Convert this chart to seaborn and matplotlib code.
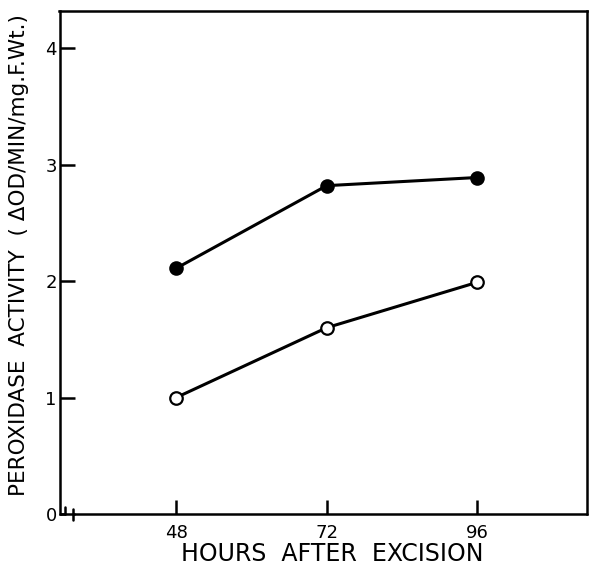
import matplotlib
matplotlib.use("Agg")
import matplotlib.pyplot as plt
import seaborn as sns
import pandas as pd

hours = [48, 72, 96]
filled_vals = [2.11, 2.82, 2.89]
open_vals = [1.00, 1.60, 1.99]
x_ticks = [48, 72, 96]
y_ticks = [0, 1, 2, 3, 4]

sns.set_theme(style="white")
plt.rcParams['font.family'] = ['DejaVu Sans']

W, H = 590, 565
fig = plt.figure(figsize=(W / 100, H / 100), dpi=100)
ax = fig.add_axes([59.5 / W, 1 - 514 / H, (587 - 59.5) / W, (514 - 11) / H])

df_f = pd.DataFrame({"hours": hours, "activity": filled_vals})
df_o = pd.DataFrame({"hours": hours, "activity": open_vals})

sns.lineplot(data=df_f, x="hours", y="activity", ax=ax, color="black", lw=2.2,
             marker="o", markersize=9, markerfacecolor="black", markeredgecolor="black",
             markeredgewidth=1.5, zorder=3)
sns.lineplot(data=df_o, x="hours", y="activity", ax=ax, color="black", lw=2.2,
             marker="o", markersize=9, markerfacecolor="white", markeredgecolor="black",
             markeredgewidth=1.6, zorder=3)

ax.set_xlim(29.4, 113.5)
ax.set_ylim(0, 4.32)
ax.set_xticks(x_ticks)
ax.set_xticklabels([str(v) for v in x_ticks], fontsize=13)
ax.set_yticks(y_ticks)
ax.set_yticklabels([str(v) for v in y_ticks], fontsize=13)
ax.tick_params(axis="y", left=True, direction="in", length=11, width=1.8, pad=2, colors="black")
ax.tick_params(axis="x", bottom=True, direction="in", length=10, width=1.8, pad=7, colors="black")

for s in ["left", "top", "right"]:
    ax.spines[s].set_color("black")
    ax.spines[s].set_linewidth(1.8)
ax.spines["bottom"].set_visible(False)

# bottom axis with break marks near origin
tr = ax.transAxes
b1, b2 = 0.0105, 0.0262
ax.plot([0, b1], [0, 0], color="black", lw=1.8, transform=tr, clip_on=False)
ax.plot([b2, 1], [0, 0], color="black", lw=1.8, transform=tr, clip_on=False)
ax.plot([b1, b1], [0, 0.014], color="black", lw=1.8, transform=tr, clip_on=False)
ax.plot([b2, b2], [-0.012, 0.010], color="black", lw=1.8, transform=tr, clip_on=False)

ax.set_xlabel("")
ax.set_ylabel("")
fig.text(332 / W, 1 - 554 / H, "HOURS  AFTER  EXCISION", ha="center", va="center",
         fontsize=17, color="black")
fig.text(19 / W, 1 - 255 / H, "PEROXIDASE  ACTIVITY  ( ΔOD/MIN/mg.F.Wt.)", ha="center",
         va="center", rotation=90, fontsize=15.5, color="black")

fig.savefig("out.png", dpi=100, facecolor="white")
